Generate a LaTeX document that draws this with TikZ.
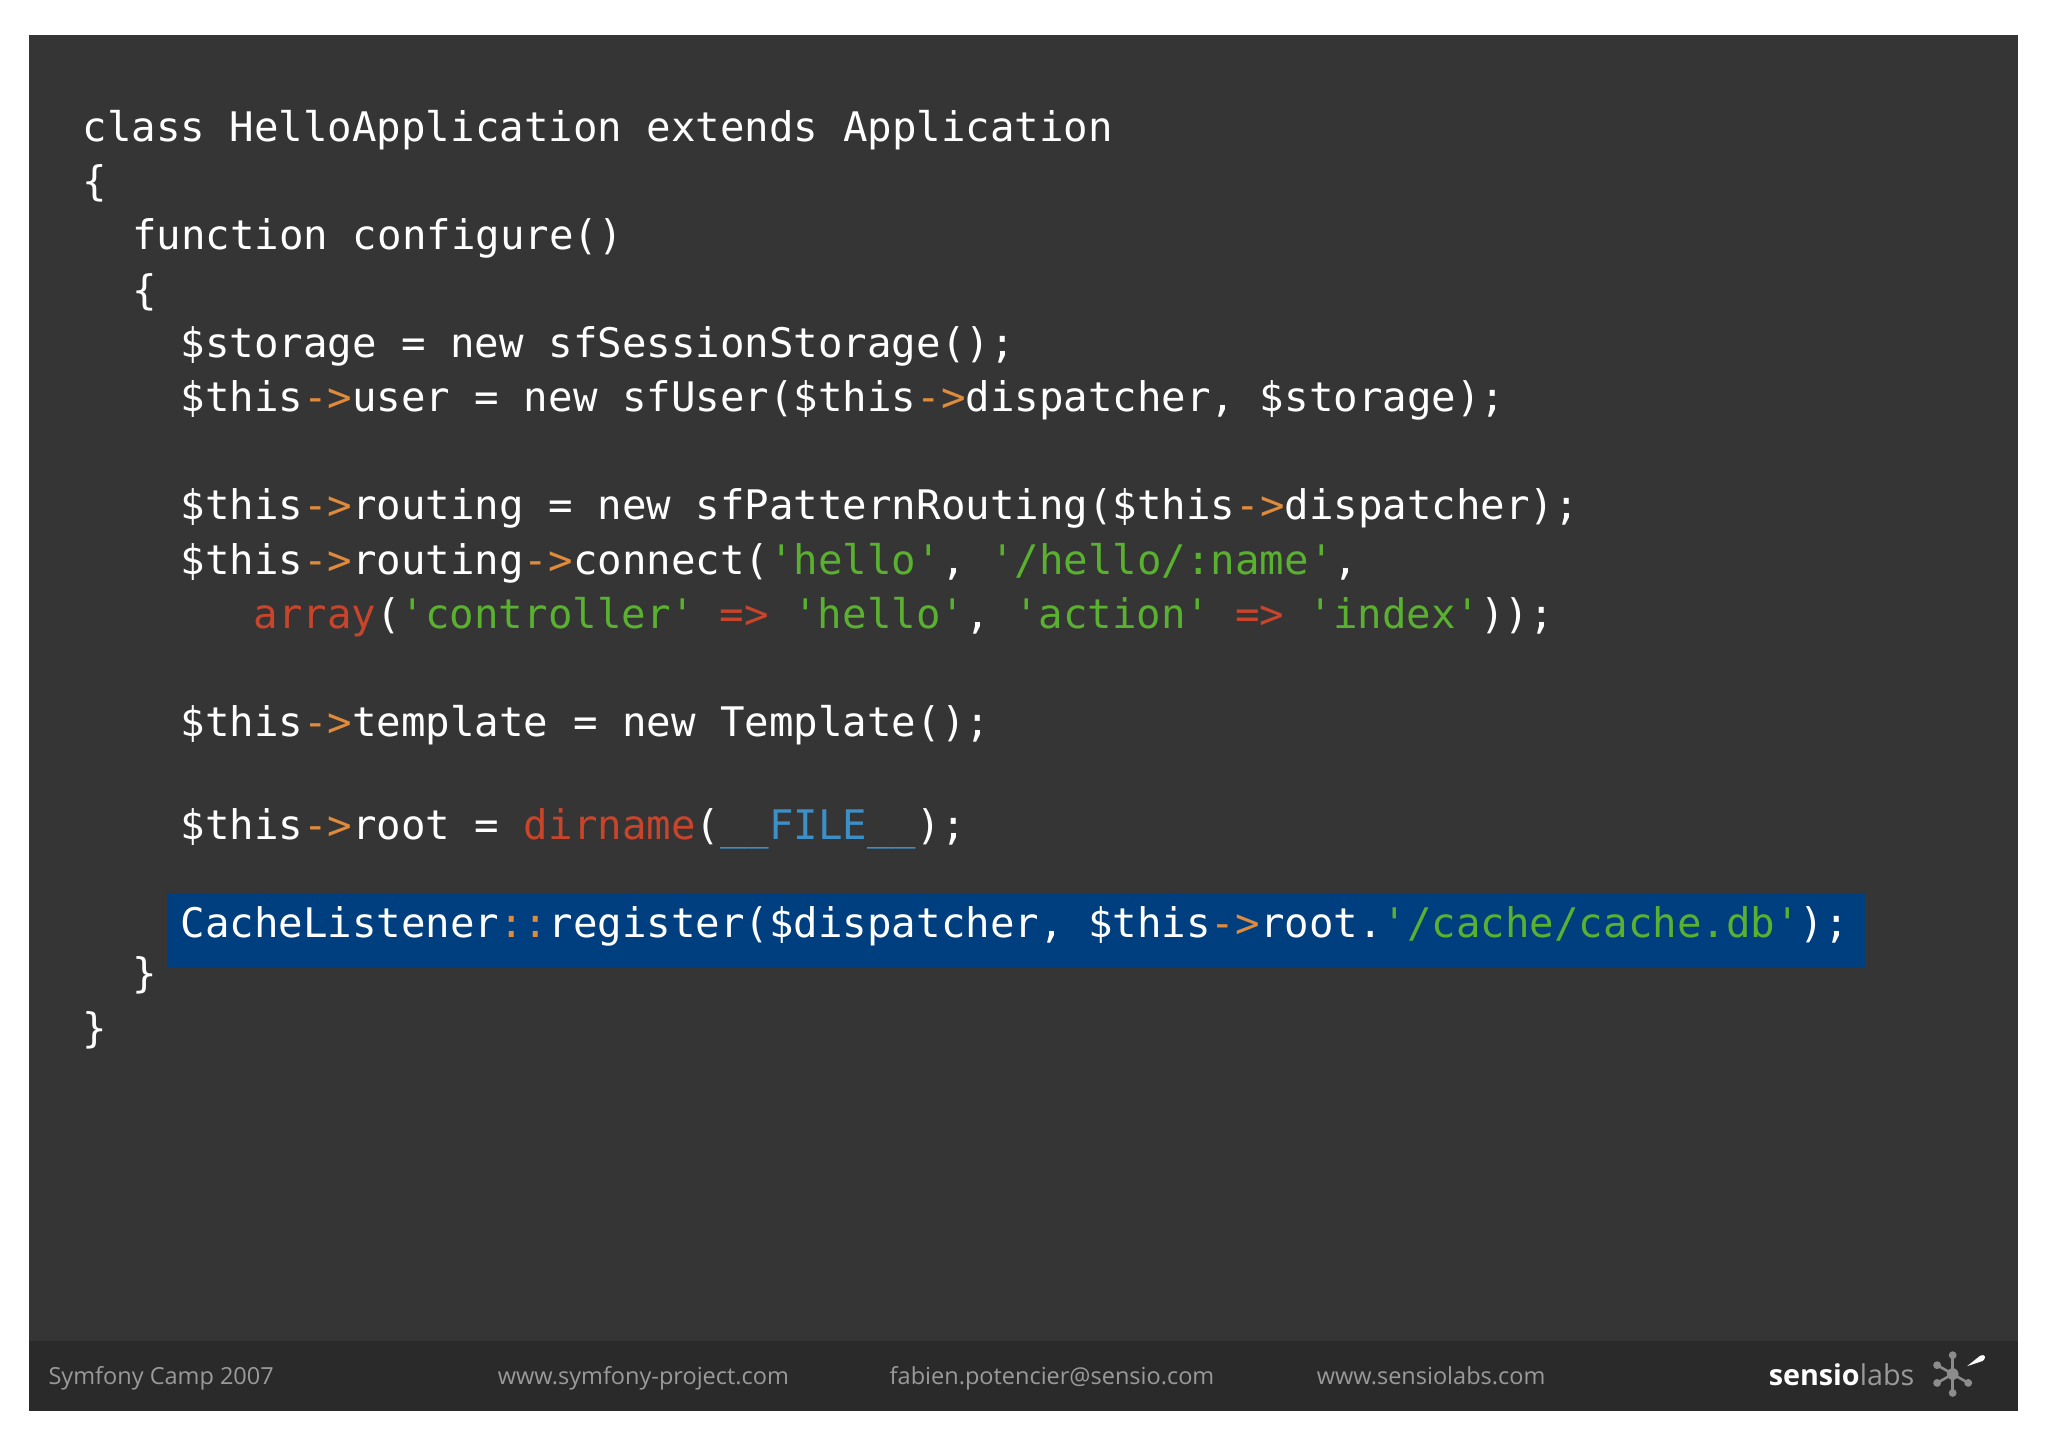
\documentclass[tikz,border=0pt]{standalone}
\usepackage{fontspec}
\setmonofont{DejaVu Sans Mono}
\setsansfont{Open Sans}
\definecolor{bg}{HTML}{353535}
\definecolor{foot}{HTML}{2A2A2A}
\definecolor{hl}{HTML}{003F7F}
\definecolor{cor}{HTML}{E08A3C}
\definecolor{cgr}{HTML}{5AB130}
\definecolor{crd}{HTML}{C8452C}
\definecolor{cbl}{HTML}{3D8FC8}
\definecolor{fg}{HTML}{9A9A9A}
\definecolor{astc}{HTML}{8C8C8C}
\newcommand{\q}{\textquotesingle}
\newcommand{\ar}{\textcolor{cor}{->}}
\newcommand{\st}[1]{\textcolor{cgr}{\q#1\q}}
\tikzset{code/.style={anchor=base west,inner sep=0pt,text=white,font=\ttfamily\fontsize{31.2}{31.2}\selectfont},
foottext/.style={anchor=base west,inner sep=0pt,text=fg,font=\sffamily\fontsize{18}{18}\selectfont}}
\begin{document}
\begin{tikzpicture}[x=1pt,y=-1pt]
\useasboundingbox[fill=white] (0,0) rectangle (1568,1108);
\fill[bg] (22,27) rectangle (1545,1080);
\fill[foot] (22,1027) rectangle (1545,1080);
\fill[hl] (128,684) rectangle (1428,741);
\node[code] (l1) at (63,108) {class HelloApplication extends Application};
\node[code] (l2) at (63,150) {\{};
\node[code] (l3) at (101,191) {function configure()};
\node[code] (l4) at (101,233) {\{};
\node[code] (l5) at (138,274) {\$storage = new sfSessionStorage();};
\node[code] (l6) at (138,315) {\$this\ar user = new sfUser(\$this\ar dispatcher, \$storage);};
\node[code] (l7) at (138,398) {\$this\ar routing = new sfPatternRouting(\$this\ar dispatcher);};
\node[code] (l8) at (138,440) {\$this\ar routing\ar connect(\st{hello}, \st{/hello/:name},};
\node[code] (l9) at (194,481) {\textcolor{crd}{array}(\st{controller} \textcolor{crd}{=>} \st{hello}, \st{action} \textcolor{crd}{=>} \st{index}));};
\node[code] (l10) at (138,564) {\$this\ar template = new Template();};
\node[code] (l11) at (138,643) {\$this\ar root = \textcolor{crd}{dirname}(\textcolor{cbl}{\_\_FILE\_\_});};
\node[code] (l12) at (138,718) {CacheListener\textcolor{cor}{::}register(\$dispatcher, \$this\ar root.\st{/cache/cache.db});};
\node[code] (l13) at (101,756) {\}};
\node[code] (l14) at (63,798) {\}};
\node[foottext] (f1) at (37,1060) {Symfony Camp 2007};
\node[foottext] (f2) at (381,1060) {www.symfony-project.com};
\node[foottext] (f3) at (681,1060) {fabien.potencier@sensio.com};
\node[foottext] (f4) at (1008,1060) {www.sensiolabs.com};
\node[anchor=base west,inner sep=0pt,font=\sffamily\fontsize{22}{22}\selectfont] (logo) at (1354,1061) {\textcolor{white}{\bfseries sensio}\textcolor{fg}{labs}};
\coordinate (ast) at (1495,1052);
\foreach \dx/\dy in {0/-17, -14/-8, -14/8, 0/17, 14/8}{
  \draw[astc,line width=2pt] (ast) -- ++(\dx,\dy);
  \fill[astc] (ast) ++(\dx*0.85,\dy*0.85) circle (3);
}
\fill[astc] (ast) circle (4.5);
\fill[white] (1506,1046) -- (1516,1038) .. controls (1520,1036) and (1521,1040) .. (1518,1042) -- cycle;
\end{tikzpicture}
\end{document}
